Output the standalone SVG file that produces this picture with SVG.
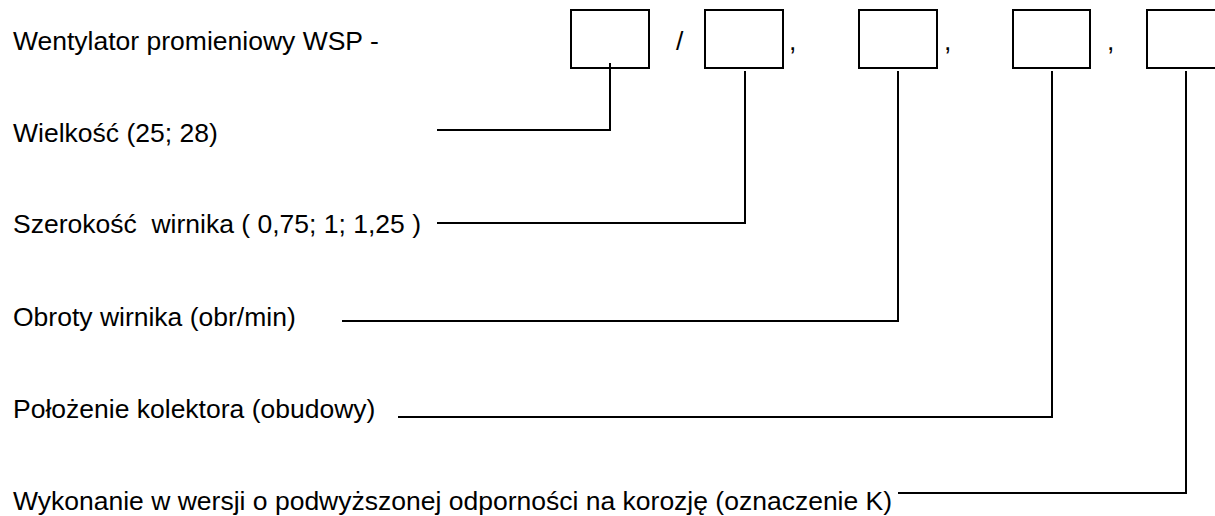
<svg xmlns="http://www.w3.org/2000/svg" width="1215" height="516" viewBox="0 0 1215 516">
<style>
text{font-family:"Liberation Sans",Arial,sans-serif;font-size:26.5px;fill:#000;white-space:pre}
.box{fill:none;stroke:#000;stroke-width:2}
.con{fill:none;stroke:#000;stroke-width:2}
</style>
<rect width="1215" height="516" fill="#fff"/>
<g id="title"><text x="13" y="50">Wentylator promieniowy WSP -</text></g>
<g id="box1"><rect class="box" x="571" y="10" width="78" height="58"/></g>
<g id="sep1"><text x="676" y="50">/</text></g>
<g id="box2"><rect class="box" x="705" y="10" width="78" height="58"/></g>
<g id="sep2"><text x="789" y="50">,</text></g>
<g id="box3"><rect class="box" x="859" y="10" width="78" height="58"/></g>
<g id="sep3"><text x="944" y="50">,</text></g>
<g id="box4"><rect class="box" x="1013" y="10" width="77" height="58"/></g>
<g id="sep4"><text x="1107" y="50">,</text></g>
<g id="box5"><rect class="box" x="1147" y="10" width="78" height="58"/></g>
<g id="label1"><text x="13" y="142">Wielkość (25; 28)</text></g>
<g id="label2"><text x="13" y="233">Szerokość  wirnika ( 0,75; 1; 1,25 )</text></g>
<g id="label3"><text x="13" y="326">Obroty wirnika (obr/min)</text></g>
<g id="label4"><text x="13" y="418">Położenie kolektora (obudowy)</text></g>
<g id="label5"><text x="13" y="510">Wykonanie w wersji o podwyższonej odporności na korozję (oznaczenie K)</text></g>
<g id="connectors">
<polyline class="con" points="437,130 610,130 610,63"/>
<polyline class="con" points="437,223 745,223 745,71"/>
<polyline class="con" points="342,321 898,321 898,71"/>
<polyline class="con" points="398,417 1052,417 1052,71"/>
<polyline class="con" points="898,493 1186,493 1186,71"/>
</g>
</svg>
